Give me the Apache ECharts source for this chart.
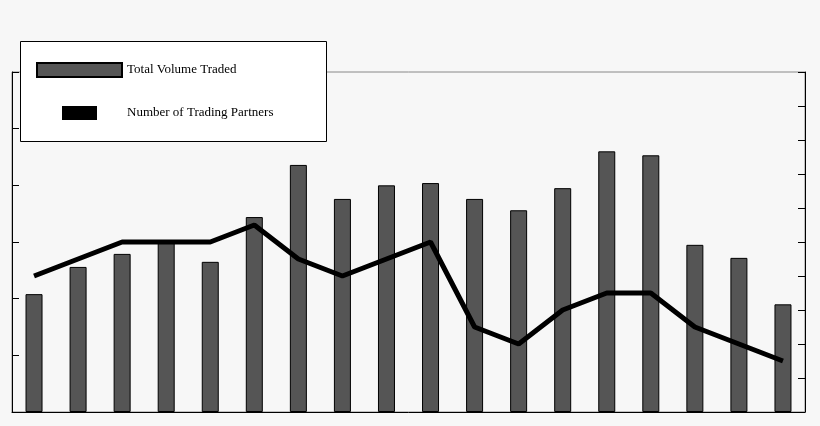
<!DOCTYPE html><html><head><meta charset="utf-8">
<script src="https://cdn.jsdelivr.net/npm/echarts@6/dist/echarts.min.js"></script>
<style>html,body{margin:0;background:#f7f7f7}#c{width:820px;height:426px}</style></head><body><div id="c"></div>
<script>
const categories=['1','2','3','4','5','6','7','8','9','10','11','12','13','14','15','16','17','18'];
const volume=[2.08,2.56,2.79,3.0,2.65,3.44,4.36,3.76,4.0,4.04,3.76,3.56,3.95,4.6,4.53,2.95,2.72,1.9];
const partners=[4,4.5,5,5,5,5.5,4.5,4,4.5,5,2.5,2,3,3.5,3.5,2.5,2,1.5];
const c=echarts.init(document.getElementById('c'));
c.setOption({
 backgroundColor:'#f7f7f7',animation:false,
 grid:{left:12,right:15,top:72,bottom:14,show:true,borderColor:'#888',borderWidth:1},
 graphic:[{type:'rect',left:20,top:41,shape:{width:306,height:100},style:{fill:'#fff',stroke:'#000',lineWidth:1},z:10}],
 legend:{orient:'vertical',left:31,top:57,itemGap:28,itemWidth:85,itemHeight:14,z:20,
  textStyle:{fontFamily:'Liberation Serif',fontSize:13,color:'#000'},
  data:[{name:'Total Volume Traded',icon:'rect'},{name:'Number of Trading Partners',icon:'path://M0,5H10V9H0Z',itemStyle:{color:'#000'}}]},
 xAxis:{type:'category',data:categories,axisLabel:{show:false},axisLine:{lineStyle:{color:'#000'}},axisTick:{inside:false,length:6,lineStyle:{color:'#000'}}},
 yAxis:[{type:'value',min:0,max:6,interval:1,axisLabel:{show:false},splitLine:{show:false},axisLine:{show:true,lineStyle:{color:'#000'}},axisTick:{show:true,inside:true,length:7,lineStyle:{color:'#000'}}},
  {type:'value',min:0,max:10,interval:1,axisLabel:{show:false},splitLine:{show:false},axisLine:{show:true,lineStyle:{color:'#000'}},axisTick:{show:true,inside:true,length:7,lineStyle:{color:'#000'}}}],
 series:[{name:'Total Volume Traded',type:'bar',data:volume,barWidth:17,itemStyle:{color:'#555',borderColor:'#000',borderWidth:1}},
  {name:'Number of Trading Partners',type:'line',yAxisIndex:1,data:partners,symbol:'none',lineStyle:{color:'#000',width:5},itemStyle:{color:'#000'}}]
});
</script></body></html>
